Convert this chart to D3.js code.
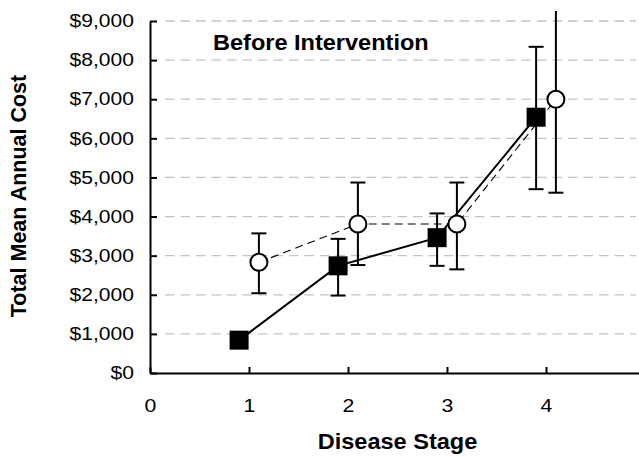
<!DOCTYPE html>
<html>
<head>
<meta charset="utf-8">
<script src="https://cdn.jsdelivr.net/npm/d3@7"></script>
<style>
  html, body { margin: 0; padding: 0; background: #fff; }
  svg { display: block; font-family: Arial, "Liberation Sans", Helvetica, sans-serif; }
</style>
</head>
<body>
<svg id="chart" width="639" height="458"></svg>
<script>
// Disease stage on the x axis; two groups drawn side by side at each stage.
const stages = [1, 2, 3, 4];
const xTickValues = [0, 1, 2, 3, 4];
const yTickValues = [0, 1000, 2000, 3000, 4000, 5000, 6000, 7000, 8000, 9000];

// Filled-square group: mean total annual cost with lower / upper error limits
const squareMean = [840, 2740, 3460, 6540];
const squareLow  = [640, 1980, 2740, 4700];
const squareHigh = [1040, 3430, 4080, 8340];

// Open-circle group
const circleMean = [2830, 3810, 3810, 7000];
const circleLow  = [2040, 2760, 2650, 4610];
const circleHigh = [3570, 4870, 4870, 9400];

const svg = d3.select("#chart");
const W = 639, H = 458;

const x = d3.scaleLinear().domain([0, 5]).range([150, 645]);
const y = d3.scaleLinear().domain([0, 9000]).range([373, 21]);

const squareData = stages.map((s, i) => ({ s, dx: -0.1, m: squareMean[i], lo: squareLow[i], hi: squareHigh[i] }));
const circleData = stages.map((s, i) => ({ s, dx: 0.1, m: circleMean[i], lo: circleLow[i], hi: circleHigh[i] }));

// horizontal dashed gridlines
svg.append("g").selectAll("line")
  .data(yTickValues.filter(v => v > 0))
  .join("line")
  .attr("x1", 165).attr("x2", 636)
  .attr("y1", d => y(d)).attr("y2", d => y(d))
  .attr("stroke", "#c4c4c4")
  .attr("stroke-width", 1.3)
  .attr("stroke-dasharray", "9.5,6");

// y axis with inward ticks
const yAxis = svg.append("g")
  .attr("transform", `translate(${x(0)},0)`)
  .call(d3.axisLeft(y).tickValues(yTickValues).tickSizeInner(-7).tickSizeOuter(0)
    .tickFormat(d => "$" + d3.format(",")(d)));
yAxis.select(".domain").attr("stroke", "#000").attr("stroke-width", 2);
yAxis.selectAll(".tick line").attr("stroke", "#000").attr("stroke-width", 2);
yAxis.selectAll(".tick text")
  .attr("x", 0).attr("dy", "0.32em")
  .attr("transform", "translate(-16,0) scale(1.17,1)")
  .attr("font-size", 18).attr("fill", "#000")
  .attr("font-family", "Arial, 'Liberation Sans', sans-serif");

// x axis with upward ticks
const xAxis = svg.append("g")
  .attr("transform", `translate(0,${y(0)})`)
  .call(d3.axisBottom(x).tickValues(xTickValues).tickSizeInner(-6).tickSizeOuter(0)
    .tickFormat(d3.format("d")));
xAxis.select(".domain").attr("stroke", "#000").attr("stroke-width", 2);
xAxis.selectAll(".tick line").attr("stroke", "#000").attr("stroke-width", 2);
xAxis.selectAll(".tick text")
  .attr("y", 0).attr("dy", 0)
  .attr("transform", "translate(0,38.7) scale(1.15,1)")
  .attr("font-size", 18.5).attr("fill", "#000")
  .attr("font-family", "Arial, 'Liberation Sans', sans-serif");

// plot clip (the tallest error bar runs past the top of the frame)
svg.append("defs").append("clipPath").attr("id", "plotClip")
  .append("rect").attr("x", 0).attr("y", 11).attr("width", W).attr("height", H - 11);

const plot = svg.append("g").attr("clip-path", "url(#plotClip)");

const line = d3.line().x(d => x(d.s + d.dx)).y(d => y(d.m));

// connecting lines
plot.append("path").datum(circleData)
  .attr("d", line).attr("fill", "none")
  .attr("stroke", "#000").attr("stroke-width", 1.1)
  .attr("stroke-dasharray", "8,5");
plot.append("path").datum(squareData)
  .attr("d", line).attr("fill", "none")
  .attr("stroke", "#000").attr("stroke-width", 2);

// error bars
function errorBars(data) {
  const g = plot.append("g").attr("stroke", "#000").attr("stroke-width", 2);
  g.selectAll(".v").data(data).join("line")
    .attr("x1", d => x(d.s + d.dx)).attr("x2", d => x(d.s + d.dx))
    .attr("y1", d => y(d.lo)).attr("y2", d => y(d.hi));
  g.selectAll(".lo").data(data).join("line")
    .attr("x1", d => x(d.s + d.dx) - 7.5).attr("x2", d => x(d.s + d.dx) + 7.5)
    .attr("y1", d => y(d.lo)).attr("y2", d => y(d.lo));
  g.selectAll(".hi").data(data).join("line")
    .attr("x1", d => x(d.s + d.dx) - 7.5).attr("x2", d => x(d.s + d.dx) + 7.5)
    .attr("y1", d => y(d.hi)).attr("y2", d => y(d.hi));
}
errorBars(squareData);
errorBars(circleData);

// markers
plot.append("g").selectAll("rect").data(squareData).join("rect")
  .attr("x", d => x(d.s + d.dx) - 9.5).attr("y", d => y(d.m) - 9.5)
  .attr("width", 19).attr("height", 19)
  .attr("fill", "#000");
plot.append("g").selectAll("circle").data(circleData).join("circle")
  .attr("cx", d => x(d.s + d.dx)).attr("cy", d => y(d.m))
  .attr("r", 8.5)
  .attr("fill", "#fff").attr("stroke", "#000").attr("stroke-width", 2);

// titles
svg.append("text")
  .attr("transform", "translate(213,50) scale(1.07,1)")
  .attr("font-size", 22).attr("font-weight", "bold")
  .text("Before Intervention");

svg.append("text")
  .attr("transform", "translate(397.5,449.3) scale(1.07,1)")
  .attr("text-anchor", "middle")
  .attr("font-size", 22).attr("font-weight", "bold")
  .text("Disease Stage");

svg.append("text")
  .attr("transform", "translate(26,196) rotate(-90)")
  .attr("text-anchor", "middle")
  .attr("font-size", 21.5).attr("font-weight", "bold")
  .text("Total Mean Annual Cost");
</script>
</body>
</html>
